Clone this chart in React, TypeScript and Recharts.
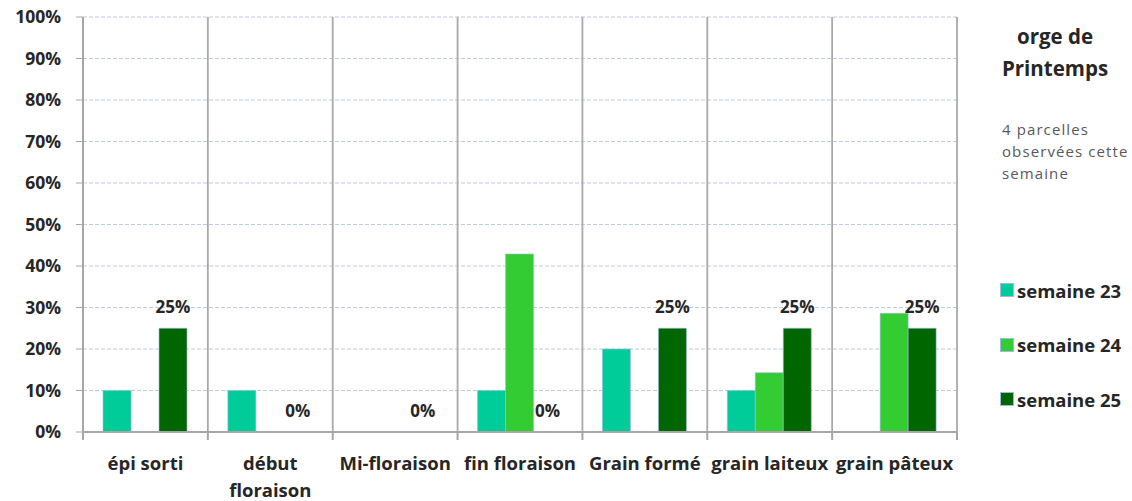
import { Bar, BarChart, CartesianGrid, LabelList, XAxis, YAxis } from "recharts";

const STAGES = [
  "épi sorti",
  "début floraison",
  "Mi-floraison",
  "fin floraison",
  "Grain formé",
  "grain laiteux",
  "grain pâteux",
];
const SEMAINE_23 = [10, 10, 0, 10, 20, 10, 0];
const SEMAINE_24 = [0, 0, 0, 42.9, 0, 14.3, 28.6];
const SEMAINE_25 = [25, 0, 0, 0, 25, 25, 25];
const Y_TICKS = [0, 10, 20, 30, 40, 50, 60, 70, 80, 90, 100];

const SERIES = [
  { key: "s23", name: "semaine 23", color: "#00CC99" },
  { key: "s24", name: "semaine 24", color: "#33CC33" },
  { key: "s25", name: "semaine 25", color: "#006600" },
];

const data = STAGES.map((stage, i) => ({
  stage,
  s23: SEMAINE_23[i],
  s24: SEMAINE_24[i],
  s25: SEMAINE_25[i],
}));

const FONT = "'Open Sans', 'DejaVu Sans', sans-serif";
const INK = "#262626";
const W = 1132;
const H = 501;
const MARGIN = { top: 17, right: 175, bottom: 0, left: 0 };
const Y_WIDTH = 83;
const BAND = (W - MARGIN.right - Y_WIDTH) / STAGES.length;

function StageTick(props: any) {
  const { x, y, payload, index } = props;
  const half = BAND / 2;
  const label = String(payload.value);
  // long names go on two lines, like the spreadsheet does
  const lines = label.length > 13 ? label.split(" ") : [label];
  return (
    <g>
      <line x1={x - half} x2={x - half} y1={y - 8} y2={y} stroke="#a6a6a6" strokeWidth={2} />
      {index === STAGES.length - 1 && (
        <line x1={x + half} x2={x + half} y1={y - 8} y2={y} stroke="#a6a6a6" strokeWidth={2} />
      )}
      <text
        x={x}
        y={y + 30}
        textAnchor="middle"
        style={{ fontFamily: FONT, fontWeight: 700, fontSize: 18.5, fill: INK }}
      >
        {lines.map((l, i) => (
          <tspan key={i} x={x} dy={i === 0 ? 0 : 27}>
            {l}
          </tspan>
        ))}
      </text>
    </g>
  );
}

// 0-height bars still get their "0%" label
function TopLabel(props: any) {
  const { x, y, width, value } = props;
  return (
    <text
      x={x + width / 2}
      y={y - 15}
      textAnchor="middle"
      style={{ fontFamily: FONT, fontWeight: 700, fontSize: 17, fill: INK }}
    >
      {`${value}%`}
    </text>
  );
}

export default function App() {
  return (
    <div style={{ position: "absolute", left: 0, top: 0, width: W, height: H, background: "#fff" }}>
      <BarChart
        width={W}
        height={H}
        data={data}
        margin={MARGIN}
        barCategoryGap={20}
        barGap={0}
      >
        <CartesianGrid vertical={false} stroke="#b8cce4" strokeDasharray="4 2" />
        <CartesianGrid
          horizontal={false}
          stroke="#a9a9a9"
          strokeWidth={1.8}
          verticalCoordinatesGenerator={({ offset }: any) =>
            STAGES.map((_, i) => offset.left + (i * offset.width) / STAGES.length).concat([
              offset.left + offset.width,
            ])
          }
        />
        <XAxis
          dataKey="stage"
          height={69}
          interval={0}
          axisLine={{ stroke: "#a6a6a6", strokeWidth: 2 }}
          tickLine={false}
          tick={<StageTick />}
        />
        <YAxis
          width={Y_WIDTH}
          domain={[0, 100]}
          ticks={Y_TICKS}
          interval={0}
          tickFormatter={(v: number) => `${v}%`}
          axisLine={{ stroke: "#a6a6a6", strokeWidth: 2 }}
          tickLine={{ stroke: "#a6a6a6" }}
          tickSize={7}
          tickMargin={15}
          tick={{ fontFamily: FONT, fontWeight: 700, fontSize: 17.5, fill: INK }}
        />
        {SERIES.map((s) => (
          <Bar
            key={s.key}
            dataKey={s.key}
            name={s.name}
            fill={s.color}
            stroke="#9dbbe0"
            strokeWidth={0.6}
            minPointSize={s.key === "s25" ? 0.01 : 0}
            isAnimationActive={false}
          >
            {s.key === "s25" && <LabelList dataKey="s25" content={<TopLabel />} />}
          </Bar>
        ))}
      </BarChart>
      <div
        style={{
          position: "absolute",
          left: 990,
          top: 20,
          width: 130,
          textAlign: "center",
          fontFamily: FONT,
          fontWeight: 700,
          fontSize: 20.5,
          lineHeight: "32px",
          color: INK,
        }}
      >
        orge de
        <br />
        Printemps
      </div>
      <div
        style={{
          position: "absolute",
          left: 1002,
          top: 118,
          width: 130,
          fontFamily: FONT,
          fontSize: 15,
          letterSpacing: 1.1,
          lineHeight: "22px",
          color: "#595959",
        }}
      >
        4 parcelles
        <br />
        observées cette
        <br />
        semaine
      </div>
      <div style={{ position: "absolute", left: 1000, top: 263, fontFamily: FONT }}>
        {SERIES.map((s) => (
          <div key={s.key} style={{ display: "flex", alignItems: "center", height: 54.5 }}>
            <span
              style={{
                width: 14,
                height: 14,
                background: s.color,
                border: "1px solid #9dbbe0",
                boxSizing: "border-box",
                marginRight: 3,
              }}
            />
            <span style={{ fontWeight: 700, fontSize: 18.5, color: INK }}>{s.name}</span>
          </div>
        ))}
      </div>
    </div>
  );
}
